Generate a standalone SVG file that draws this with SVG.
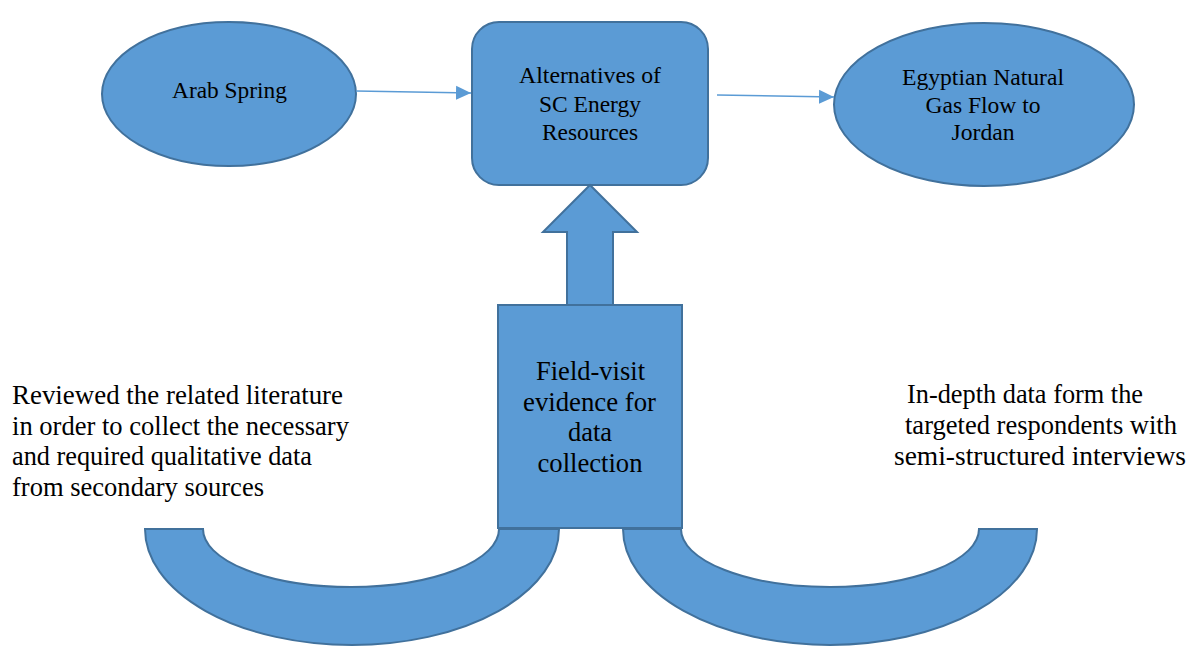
<svg xmlns="http://www.w3.org/2000/svg" width="1192" height="646" viewBox="0 0 1192 646">
<style>
.shape{fill:#5B9BD5;stroke:#41719C;stroke-width:2;stroke-linejoin:miter}
.conn{stroke:#5B9BD5;stroke-width:1.5;fill:none}
.t{font-family:"Liberation Serif","Times New Roman",Times,"Nimbus Roman","DejaVu Serif",serif;fill:#000}
.top{font-size:23.5px;text-anchor:middle}
.big{font-size:26.5px}
.mid{text-anchor:middle}
</style>
<defs>
<marker id="ah" markerUnits="userSpaceOnUse" markerWidth="16" markerHeight="16" refX="15" refY="7" orient="auto" viewBox="0 0 16 14">
<path d="M0,0 L15,7 L0,14 Z" fill="#5B9BD5"/>
</marker>
</defs>
<rect width="1192" height="646" fill="#FFFFFF"/>
<g id="u-left">
<path class="shape" d="M145,529 A207,116 0 0 0 559,529 L499,529 A148,58 0 0 1 203,529 Z"/>
</g>
<g id="u-right">
<path class="shape" d="M623,529 A207,116 0 0 0 1037,529 L979,529 A149,58 0 0 1 681,529 Z"/>
</g>
<g id="arab-spring">
<ellipse class="shape" cx="229" cy="94" rx="127" ry="72"/>
<text class="t top" x="229.5" y="98" textLength="115" lengthAdjust="spacingAndGlyphs">Arab Spring</text>
</g>
<g id="alternatives">
<rect class="shape" x="472" y="22" width="236" height="163" rx="27" ry="27"/>
<text class="t top" x="590" y="83" textLength="142" lengthAdjust="spacingAndGlyphs">Alternatives of</text>
<text class="t top" x="590" y="112" textLength="102" lengthAdjust="spacingAndGlyphs">SC Energy</text>
<text class="t top" x="590" y="140" textLength="96" lengthAdjust="spacingAndGlyphs">Resources</text>
</g>
<g id="egyptian-gas">
<ellipse class="shape" cx="984" cy="104.5" rx="150" ry="81.5"/>
<text class="t top" x="983" y="85" textLength="162" lengthAdjust="spacingAndGlyphs">Egyptian Natural</text>
<text class="t top" x="983" y="113" textLength="115" lengthAdjust="spacingAndGlyphs">Gas Flow to</text>
<text class="t top" x="983" y="140" textLength="63" lengthAdjust="spacingAndGlyphs">Jordan</text>
</g>
<g id="block-arrow">
<path class="shape" d="M590,185 L637,232 L613,232 L613,305 L567,305 L567,232 L543,232 Z"/>
</g>
<g id="field-visit">
<rect class="shape" x="498" y="305" width="184" height="223"/>
<text class="t big mid" x="590.5" y="380" textLength="109" lengthAdjust="spacingAndGlyphs">Field-visit</text>
<text class="t big mid" x="589.5" y="411" textLength="133" lengthAdjust="spacingAndGlyphs">evidence for</text>
<text class="t big mid" x="590" y="441" textLength="44" lengthAdjust="spacingAndGlyphs">data</text>
<text class="t big mid" x="590" y="472" textLength="105" lengthAdjust="spacingAndGlyphs">collection</text>
</g>
<g id="left-text">
<text class="t big" x="12" y="404" textLength="331" lengthAdjust="spacingAndGlyphs">Reviewed the related literature</text>
<text class="t big" x="12" y="435" textLength="337" lengthAdjust="spacingAndGlyphs">in order to collect the necessary</text>
<text class="t big" x="12" y="465" textLength="300" lengthAdjust="spacingAndGlyphs">and required qualitative data</text>
<text class="t big" x="12" y="496" textLength="252" lengthAdjust="spacingAndGlyphs">from secondary sources</text>
</g>
<g id="right-text">
<text class="t big" x="907" y="403" textLength="236" lengthAdjust="spacingAndGlyphs">In-depth data form the</text>
<text class="t big" x="905" y="434" textLength="272" lengthAdjust="spacingAndGlyphs">targeted respondents with</text>
<text class="t big" x="894" y="465" textLength="292" lengthAdjust="spacingAndGlyphs">semi-structured interviews</text>
</g>
<g id="connectors">
<line class="conn" x1="356" y1="91" x2="471" y2="93" marker-end="url(#ah)"/>
<line class="conn" x1="717" y1="95" x2="834" y2="97" marker-end="url(#ah)"/>
</g>
</svg>
